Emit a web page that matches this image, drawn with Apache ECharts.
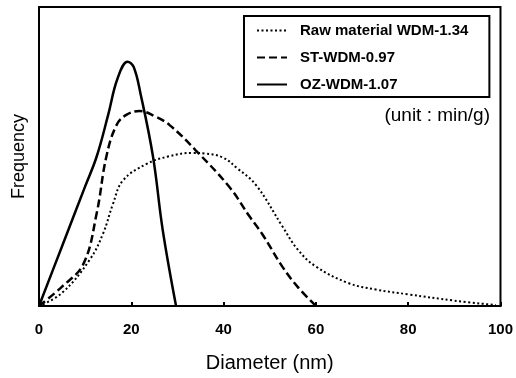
<!DOCTYPE html>
<html>
<head>
<meta charset="utf-8">
<script src="https://cdn.jsdelivr.net/npm/echarts@6/dist/echarts.min.js"></script>
<style>
html,body{margin:0;padding:0;background:#fff;}
#chart{width:516px;height:378px;}
</style>
</head>
<body>
<div id="chart"></div>
<script>
// Series names
var seriesNames = ['Raw material WDM-1.34', 'ST-WDM-0.97', 'OZ-WDM-1.07'];
// Diameter (nm) / frequency (relative, 0-100) pairs
var rawDiam = [0, 5, 11, 13.9, 16, 18.2, 23.3, 28, 33.3, 36, 39.8, 43, 47, 52.8, 56, 60, 67, 73, 80, 90, 99];
var rawFreq = [0, 4.4, 15.5, 24.3, 34, 42, 47.5, 50, 51.2, 51, 49.7, 46, 40.5, 26.5, 19, 13.2, 7.7, 5.5, 3.9, 1.8, 0.3];
var stDiam = [0, 5, 9.6, 12.5, 14.6, 16.8, 19, 21.8, 25, 28.3, 34, 41.3, 45.6, 48.4, 52.8, 56, 60];
var stFreq = [0, 6.5, 14, 31, 50, 60.5, 64, 65.2, 63.5, 60.5, 52, 39.7, 30, 24, 13, 6.5, 0];
var ozDiam = [0, 5, 10, 12.5, 15, 17, 19.2, 20.5, 22, 24.7, 26.8, 29.7];
var ozFreq = [0, 20, 40, 50, 64, 76, 81.7, 80, 71, 50, 25.5, 0];
// Axis ticks
var xTicks = [0, 20, 40, 60, 80, 100];
var xName = 'Diameter (nm)';
var yName = 'Frequency';
var unitText = '(unit : min/g)';

function pairs(xs, ys){ return xs.map(function(x,i){ return [x, ys[i]]; }); }

var FONT = '"Liberation Sans", Arial, sans-serif';
var chart = echarts.init(document.getElementById('chart'), null, {renderer:'canvas'});
chart.setOption({
  animation: false,
  backgroundColor: '#fff',
  textStyle: {fontFamily: FONT, color: '#000'},
  title: {
    text: unitText, right: 26, top: 106, padding: 0,
    textStyle: {fontFamily: FONT, fontSize: 19, fontWeight: 'normal', color: '#000'}
  },
  legend: {
    orient: 'vertical', left: 244, top: 16,
    padding: [7, 21, 5, 12],
    borderColor: '#000', borderWidth: 2,
    itemWidth: 30, itemHeight: 14, itemGap: 12,
    itemStyle: {opacity: 0},
    textStyle: {fontFamily: FONT, fontSize: 15, fontWeight: 'bold', color: '#000', padding: [0,0,0,8]},
    data: seriesNames
  },
  grid: {left: 39, top: 7, width: 462, height: 303, show: true, borderColor: '#000', borderWidth: 2, backgroundColor: 'transparent'},
  xAxis: {
    type: 'value', min: xTicks[0], max: xTicks[xTicks.length-1], interval: 20,
    name: xName, nameLocation: 'middle', nameGap: 47,
    nameTextStyle: {fontFamily: FONT, fontSize: 20, color: '#000'},
    axisLine: {lineStyle: {color: '#000', width: 2}},
    axisTick: {inside: true, length: 4, lineStyle: {color: '#000', width: 2}},
    axisLabel: {fontFamily: FONT, fontSize: 15, fontWeight: 'bold', color: '#000', margin: 16},
    splitLine: {show: false}
  },
  yAxis: {
    type: 'value', min: 0, max: 100,
    name: yName, nameLocation: 'middle', nameGap: 11,
    nameTextStyle: {fontFamily: FONT, fontSize: 18, color: '#000'},
    axisLine: {lineStyle: {color: '#000', width: 2}},
    axisTick: {show: false}, axisLabel: {show: false}, splitLine: {show: false}
  },
  series: [
    {name: seriesNames[0], type: 'line', smooth: 0.4, symbol: 'none', data: pairs(rawDiam, rawFreq),
     lineStyle: {color: '#000', width: 2, type: [2, 2.5]}, itemStyle: {color: '#000'}},
    {name: seriesNames[1], type: 'line', smooth: 0.4, symbol: 'none', data: pairs(stDiam, stFreq),
     lineStyle: {color: '#000', width: 2.5, type: [8, 4]}, itemStyle: {color: '#000'}},
    {name: seriesNames[2], type: 'line', smooth: 0.4, symbol: 'none', data: pairs(ozDiam, ozFreq),
     lineStyle: {color: '#000', width: 2.5, type: 'solid'}, itemStyle: {color: '#000'}}
  ]
});
</script>
</body>
</html>
